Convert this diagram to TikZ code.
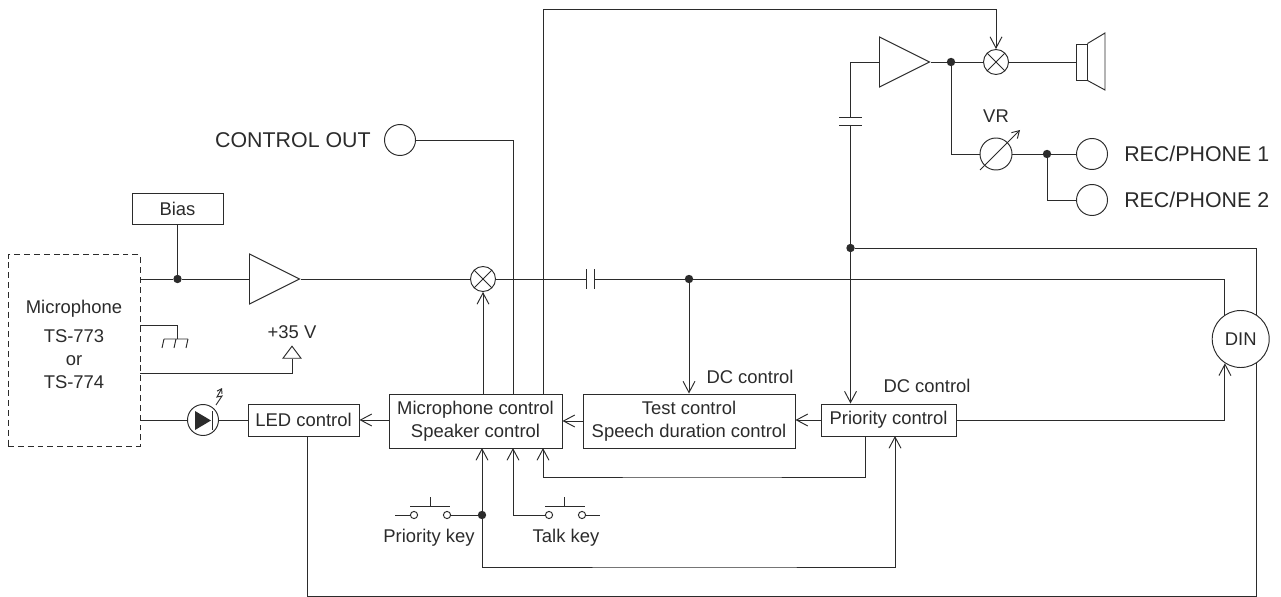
\documentclass[tikz,border=0pt]{standalone}
\usepackage{fontspec}
\setmainfont{Liberation Sans}
\usetikzlibrary{arrows.meta,shapes.geometric}
\definecolor{ink}{HTML}{2B2B2B}
\tikzset{
  >={Straight Barb[length=8pt,width=8.5pt]},
  every node/.style={font=\fontsize{13.1}{16.3}\selectfont,text=ink},
  line/.style={draw=ink,line width=0.68pt},
  arrow/.style={line,->},
  box/.style={draw=ink,line width=0.68pt,fill=white,inner sep=0pt,align=center},
  dashbox/.style={box,dash pattern=on 4.2pt off 2.8pt},
  jack/.style={circle,draw=ink,line width=0.68pt,fill=white,inner sep=0pt,minimum size=7.75mm},
  amp/.style={isosceles triangle,isosceles triangle stretches,draw=ink,line width=0.68pt,fill=white,inner sep=0pt,minimum width=12.5mm,minimum height=12.5mm},
  mixer/.style={circle,draw=ink,line width=0.68pt,fill=white,inner sep=0pt,minimum size=6.25mm,
    path picture={\draw[line] (path picture bounding box.south west) -- (path picture bounding box.north east)
      (path picture bounding box.north west) -- (path picture bounding box.south east);}},
  dot/.style={circle,fill=ink,inner sep=0pt,minimum size=2.1mm},
  contact/.style={circle,draw=ink,line width=0.68pt,fill=white,inner sep=0pt,minimum size=1.8mm},
  label/.style={inner sep=0pt},
  biglabel/.style={label,font=\fontsize{15.2}{18}\selectfont},
}
\begin{document}
\begin{tikzpicture}[x=0.025cm,y=-0.025cm]
  \useasboundingbox (0,0) rectangle (1281,597);
  % blocks
  \node[box,minimum width=22.75mm,minimum height=7.75mm] (bias) at (177.5,208.5) {Bias};
  \node[dashbox,minimum width=33mm,minimum height=47.75mm] (mic) at (74,350.5) {};
  \node[box,minimum width=27.75mm,minimum height=8mm] (ledctl) at (303.5,420) {LED control};
  \node[box,minimum width=43.25mm,minimum height=13.5mm] (micctl) at (475.5,421) {Microphone control\\Speaker control};
  \node[box,minimum width=53mm,minimum height=13.5mm] (testctl) at (689,421) {Test control\\Speech duration control};
  \node[box,minimum width=33.75mm,minimum height=8mm] (prictl) at (888.5,420) {Priority control};

  \node[label,align=center] (miclabel) at (74,309) {Microphone};
  \node[label,align=center] (mictype) at (74,359.5) {TS-773\\or\\TS-774};
  \node[label] (dcone) at (750,377) {DC control};
  \node[label] (dctwo) at (927,386) {DC control};

  % microphone path
  \coordinate (micout) at (140,279);
  \coordinate (micgnd) at (140,325);
  \coordinate (micsup) at (140,373);
  \coordinate (micled) at (140,420);
  \node[dot] (biasdot) at (177.5,279) {};
  \node[amp,anchor=lower side] (micamp) at (249,279) {};
  \node[mixer] (micmix) at (483,279) {};
  \node[dot] (testdot) at (689,279) {};
  \coordinate (capa) at (586,279);
  \coordinate (capb) at (594,279);
  \draw[line] (bias) -- (biasdot);
  \draw[line] (micout) -- (biasdot) -- (micamp.lower side);
  \draw[line] (micamp.apex) -- (micmix) -- (capa);
  \draw[line] (capb) -- (testdot);
  \draw[line] ([yshift=-7]capa) -- ([yshift=7]capa) ([yshift=-7]capb) -- ([yshift=7]capb);
  \draw[arrow] (testdot) -- (testctl.north -| testdot);

  % ground and supply
  \coordinate (gnd) at (177,339);
  \draw[line] (micgnd) -| (gnd);
  \draw[line] (164,339) -- (188,339) (188,339) -- (186,348) (176,339) -- (174,348) (164,339) -- (162,348);
  \node[amp,shape border rotate=90,anchor=apex,minimum width=4.5mm,minimum height=3mm] (supply) at (292,345) {};
  \node[label] (supplylabel) at (292,332) {+35 V};
  \draw[line] (micsup) -| (supply.lower side);

  % led
  \node[jack] (led) at (203,420) {};
  \draw[line] (micled) -- (led) -- (ledctl);
  \fill[ink] (195,411) -- (211,420.5) -- (195,430) -- cycle;
  \draw[line] (212,411) -- (212,430);
  \draw[line,-{Straight Barb[length=3pt,width=4pt]}] (216,405) -- (222,396) -- (217,397) -- (222,388);
  \draw[arrow] (micctl.west |- ledctl) -- (ledctl);

  % control blocks
  \draw[arrow] (testctl) -- (micctl);
  \draw[arrow] (prictl.west) -- (testctl.east |- prictl);
  \draw[arrow] (micctl.north -| micmix) -- (micmix);

  % control out
  \node[jack] (ctlout) at (400,140) {};
  \node[biglabel,anchor=east] (ctlname) at (371,140) {CONTROL OUT};
  \coordinate (talkin) at (513,448);
  \coordinate (fbin) at (543,448);
  \coordinate (priin) at (482,448);
  \draw[line] (ctlout) -| (talkin |- micctl.north);

  % output stage
  \node[amp,anchor=lower side] (spamp) at (879,62) {};
  \node[dot] (spdot) at (951,62) {};
  \node[mixer] (spmix) at (996,62) {};
  \node[box,minimum width=2.75mm,minimum height=9mm] (spk) at (1081.5,62) {};
  \coordinate (captop) at (850.5,117);
  \coordinate (capbot) at (850.5,125);
  \node[dot] (dindot) at (850.5,248) {};
  \draw[line] (spk.north east) -- (1105,33) -- (1105,90) -- (spk.south east);
  \draw[line] (spamp.apex) -- (spdot) -- (spmix) -- (spk);
  \draw[line] (spamp.lower side) -| (captop);
  \draw[line] (capbot) -- (dindot);
  \draw[line] ([xshift=-8]captop) -- ([xshift=8]captop) ([xshift=-8]capbot) -- ([xshift=8]capbot);
  \draw[arrow] (dindot) -- (prictl.north -| dindot);
  \coordinate (topbend) at (996,9);
  \draw[arrow] (fbin |- micctl.north) |- (topbend) -- (spmix.north);

  % volume and phones
  \node[circle,draw=ink,line width=0.68pt,fill=white,inner sep=0pt,minimum size=8mm] (vr) at (996,154) {};
  \node[label] (vrlabel) at (996,116) {VR};
  \node[dot] (recdot) at (1047,154) {};
  \node[jack] (recone) at (1092,154) {};
  \node[jack] (rectwo) at (1092,200) {};
  \node[biglabel,anchor=west] (reconelabel) at (1124,154) {REC/PHONE 1};
  \node[biglabel,anchor=west] (rectwolabel) at (1124,200) {REC/PHONE 2};
  \draw[line] (spdot) |- (vr);
  \draw[line] (vr) -- (recdot) -- (recone);
  \draw[line] (recdot) |- (rectwo);
  \draw[arrow,>={Straight Barb[length=5pt,width=6pt]}] ([shift={(-16,16)}]vr.center) -- ([shift={(24,-24)}]vr.center);

  % din socket
  \coordinate (botright) at (1256,596);
  \coordinate (ledtap) at (307,436);
  \draw[line] (dindot) -| (botright) -| (ledtap);
  \node[circle,draw=ink,line width=0.68pt,fill=white,inner sep=0pt,minimum size=14.25mm] (din) at (1240.7,339) {DIN};
  \draw[line] (testdot) -| (din.123);
  \draw[arrow] (prictl) -| (din.237);

  % keys
  \node[dot] (keydot) at (482,515) {};
  \node[contact] (prikeya) at (414,515) {};
  \node[contact] (prikeyb) at (447,515) {};
  \node[contact] (talkkeya) at (549,515) {};
  \node[contact] (talkkeyb) at (582,515) {};
  \coordinate (prifree) at (395,515);
  \coordinate (talkfree) at (600,515);
  \node[label] (prilabel) at (429,538) {Priority key};
  \node[label] (talklabel) at (566,538) {Talk key};
  \draw[line] (prifree) -- (prikeya);
  \draw[line] (prikeyb) -- (keydot);
  \draw[line] (talkkeyb) -- (talkfree);
  \draw[line] (410,506) -- (450,506) (430,497) -- (430,506);
  \draw[line] (545,506) -- (585,506) (564.5,497) -- (564.5,506);
  \draw[arrow] (keydot) -- (priin);
  \draw[arrow] (talkkeya) -| (talkin);
  \coordinate (pritap) at (865,436);
  \coordinate (loopa) at (700,477);
  \draw[arrow] (pritap) |- (loopa) -| (fbin);
  \coordinate (prikeyin) at (895,436);
  \coordinate (loopb) at (700,567);
  \draw[arrow] (keydot) |- (loopb) -| (prikeyin);
\end{tikzpicture}
\end{document}
